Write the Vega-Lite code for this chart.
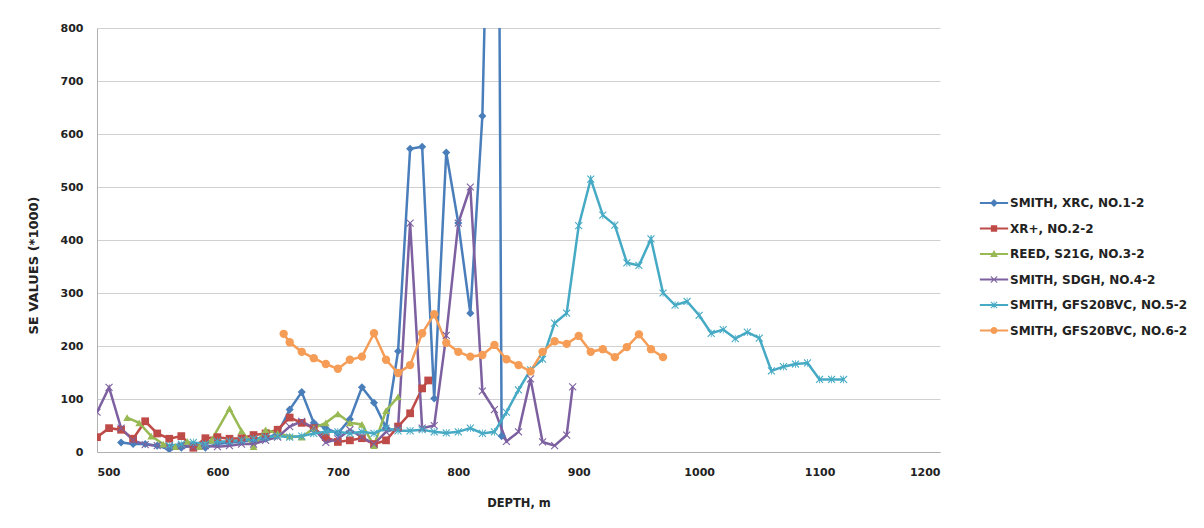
{
"$schema": "https://vega.github.io/schema/vega-lite/v6.json",
"width": 843, "height": 424,
"autosize": {"type": "none"},
"padding": {"left": 97, "top": 28, "right": 264, "bottom": 76},
"background": "white",
"config": {"view": {"stroke": null}},
"data": {"values": [
{"series":"SMITH, XRC, NO.1-2","depth":520,"value":18},{"series":"SMITH, XRC, NO.1-2","depth":530,"value":15},{"series":"SMITH, XRC, NO.1-2","depth":540,"value":15},{"series":"SMITH, XRC, NO.1-2","depth":550,"value":12},{"series":"SMITH, XRC, NO.1-2","depth":560,"value":5},{"series":"SMITH, XRC, NO.1-2","depth":570,"value":8},{"series":"SMITH, XRC, NO.1-2","depth":580,"value":12},{"series":"SMITH, XRC, NO.1-2","depth":590,"value":8},{"series":"SMITH, XRC, NO.1-2","depth":600,"value":15},{"series":"SMITH, XRC, NO.1-2","depth":610,"value":18},{"series":"SMITH, XRC, NO.1-2","depth":620,"value":20},{"series":"SMITH, XRC, NO.1-2","depth":630,"value":22},{"series":"SMITH, XRC, NO.1-2","depth":640,"value":25},{"series":"SMITH, XRC, NO.1-2","depth":650,"value":35},{"series":"SMITH, XRC, NO.1-2","depth":660,"value":80},{"series":"SMITH, XRC, NO.1-2","depth":670,"value":113},{"series":"SMITH, XRC, NO.1-2","depth":680,"value":55},{"series":"SMITH, XRC, NO.1-2","depth":690,"value":45},{"series":"SMITH, XRC, NO.1-2","depth":700,"value":35},{"series":"SMITH, XRC, NO.1-2","depth":710,"value":62},{"series":"SMITH, XRC, NO.1-2","depth":720,"value":122},{"series":"SMITH, XRC, NO.1-2","depth":730,"value":93},{"series":"SMITH, XRC, NO.1-2","depth":740,"value":46},{"series":"SMITH, XRC, NO.1-2","depth":750,"value":190},{"series":"SMITH, XRC, NO.1-2","depth":760,"value":572},{"series":"SMITH, XRC, NO.1-2","depth":770,"value":576},{"series":"SMITH, XRC, NO.1-2","depth":780,"value":101},{"series":"SMITH, XRC, NO.1-2","depth":790,"value":565},{"series":"SMITH, XRC, NO.1-2","depth":800,"value":432},{"series":"SMITH, XRC, NO.1-2","depth":810,"value":262},{"series":"SMITH, XRC, NO.1-2","depth":820,"value":634},{"series":"SMITH, XRC, NO.1-2","depth":832,"value":1800},{"series":"SMITH, XRC, NO.1-2","depth":836,"value":30},
{"series":"XR+, NO.2-2","depth":500,"value":28},{"series":"XR+, NO.2-2","depth":510,"value":45},{"series":"XR+, NO.2-2","depth":520,"value":42},{"series":"XR+, NO.2-2","depth":530,"value":25},{"series":"XR+, NO.2-2","depth":540,"value":58},{"series":"XR+, NO.2-2","depth":550,"value":35},{"series":"XR+, NO.2-2","depth":560,"value":25},{"series":"XR+, NO.2-2","depth":570,"value":30},{"series":"XR+, NO.2-2","depth":580,"value":8},{"series":"XR+, NO.2-2","depth":590,"value":26},{"series":"XR+, NO.2-2","depth":600,"value":28},{"series":"XR+, NO.2-2","depth":610,"value":25},{"series":"XR+, NO.2-2","depth":620,"value":26},{"series":"XR+, NO.2-2","depth":630,"value":32},{"series":"XR+, NO.2-2","depth":640,"value":35},{"series":"XR+, NO.2-2","depth":650,"value":42},{"series":"XR+, NO.2-2","depth":660,"value":65},{"series":"XR+, NO.2-2","depth":670,"value":55},{"series":"XR+, NO.2-2","depth":680,"value":45},{"series":"XR+, NO.2-2","depth":690,"value":28},{"series":"XR+, NO.2-2","depth":700,"value":19},{"series":"XR+, NO.2-2","depth":710,"value":22},{"series":"XR+, NO.2-2","depth":720,"value":26},{"series":"XR+, NO.2-2","depth":730,"value":15},{"series":"XR+, NO.2-2","depth":740,"value":22},{"series":"XR+, NO.2-2","depth":750,"value":48},{"series":"XR+, NO.2-2","depth":760,"value":73},{"series":"XR+, NO.2-2","depth":770,"value":120},{"series":"XR+, NO.2-2","depth":775,"value":135},
{"series":"REED, S21G, NO.3-2","depth":525,"value":65},{"series":"REED, S21G, NO.3-2","depth":535,"value":55},{"series":"REED, S21G, NO.3-2","depth":545,"value":30},{"series":"REED, S21G, NO.3-2","depth":555,"value":15},{"series":"REED, S21G, NO.3-2","depth":565,"value":10},{"series":"REED, S21G, NO.3-2","depth":575,"value":20},{"series":"REED, S21G, NO.3-2","depth":585,"value":10},{"series":"REED, S21G, NO.3-2","depth":595,"value":22},{"series":"REED, S21G, NO.3-2","depth":610,"value":82},{"series":"REED, S21G, NO.3-2","depth":620,"value":40},{"series":"REED, S21G, NO.3-2","depth":630,"value":10},{"series":"REED, S21G, NO.3-2","depth":640,"value":42},{"series":"REED, S21G, NO.3-2","depth":650,"value":35},{"series":"REED, S21G, NO.3-2","depth":660,"value":30},{"series":"REED, S21G, NO.3-2","depth":670,"value":28},{"series":"REED, S21G, NO.3-2","depth":680,"value":45},{"series":"REED, S21G, NO.3-2","depth":690,"value":55},{"series":"REED, S21G, NO.3-2","depth":700,"value":72},{"series":"REED, S21G, NO.3-2","depth":710,"value":55},{"series":"REED, S21G, NO.3-2","depth":720,"value":52},{"series":"REED, S21G, NO.3-2","depth":730,"value":12},{"series":"REED, S21G, NO.3-2","depth":740,"value":78},{"series":"REED, S21G, NO.3-2","depth":750,"value":104},
{"series":"SMITH, SDGH, NO.4-2","depth":500,"value":75},{"series":"SMITH, SDGH, NO.4-2","depth":510,"value":122},{"series":"SMITH, SDGH, NO.4-2","depth":520,"value":45},{"series":"SMITH, SDGH, NO.4-2","depth":530,"value":22},{"series":"SMITH, SDGH, NO.4-2","depth":540,"value":14},{"series":"SMITH, SDGH, NO.4-2","depth":550,"value":12},{"series":"SMITH, SDGH, NO.4-2","depth":560,"value":10},{"series":"SMITH, SDGH, NO.4-2","depth":570,"value":12},{"series":"SMITH, SDGH, NO.4-2","depth":580,"value":10},{"series":"SMITH, SDGH, NO.4-2","depth":590,"value":12},{"series":"SMITH, SDGH, NO.4-2","depth":600,"value":10},{"series":"SMITH, SDGH, NO.4-2","depth":610,"value":12},{"series":"SMITH, SDGH, NO.4-2","depth":620,"value":15},{"series":"SMITH, SDGH, NO.4-2","depth":630,"value":15},{"series":"SMITH, SDGH, NO.4-2","depth":640,"value":22},{"series":"SMITH, SDGH, NO.4-2","depth":650,"value":28},{"series":"SMITH, SDGH, NO.4-2","depth":660,"value":48},{"series":"SMITH, SDGH, NO.4-2","depth":670,"value":58},{"series":"SMITH, SDGH, NO.4-2","depth":680,"value":45},{"series":"SMITH, SDGH, NO.4-2","depth":690,"value":18},{"series":"SMITH, SDGH, NO.4-2","depth":700,"value":25},{"series":"SMITH, SDGH, NO.4-2","depth":710,"value":42},{"series":"SMITH, SDGH, NO.4-2","depth":720,"value":28},{"series":"SMITH, SDGH, NO.4-2","depth":730,"value":15},{"series":"SMITH, SDGH, NO.4-2","depth":740,"value":38},{"series":"SMITH, SDGH, NO.4-2","depth":750,"value":45},{"series":"SMITH, SDGH, NO.4-2","depth":760,"value":432},{"series":"SMITH, SDGH, NO.4-2","depth":770,"value":45},{"series":"SMITH, SDGH, NO.4-2","depth":780,"value":50},{"series":"SMITH, SDGH, NO.4-2","depth":790,"value":220},{"series":"SMITH, SDGH, NO.4-2","depth":800,"value":432},{"series":"SMITH, SDGH, NO.4-2","depth":810,"value":500},{"series":"SMITH, SDGH, NO.4-2","depth":820,"value":115},{"series":"SMITH, SDGH, NO.4-2","depth":830,"value":80},{"series":"SMITH, SDGH, NO.4-2","depth":840,"value":20},{"series":"SMITH, SDGH, NO.4-2","depth":850,"value":38},{"series":"SMITH, SDGH, NO.4-2","depth":860,"value":138},{"series":"SMITH, SDGH, NO.4-2","depth":870,"value":19},{"series":"SMITH, SDGH, NO.4-2","depth":880,"value":12},{"series":"SMITH, SDGH, NO.4-2","depth":890,"value":32},{"series":"SMITH, SDGH, NO.4-2","depth":895,"value":123},
{"series":"SMITH, GFS20BVC, NO.5-2","depth":560,"value":12},{"series":"SMITH, GFS20BVC, NO.5-2","depth":570,"value":15},{"series":"SMITH, GFS20BVC, NO.5-2","depth":580,"value":18},{"series":"SMITH, GFS20BVC, NO.5-2","depth":590,"value":15},{"series":"SMITH, GFS20BVC, NO.5-2","depth":600,"value":20},{"series":"SMITH, GFS20BVC, NO.5-2","depth":610,"value":20},{"series":"SMITH, GFS20BVC, NO.5-2","depth":620,"value":22},{"series":"SMITH, GFS20BVC, NO.5-2","depth":630,"value":25},{"series":"SMITH, GFS20BVC, NO.5-2","depth":640,"value":28},{"series":"SMITH, GFS20BVC, NO.5-2","depth":650,"value":30},{"series":"SMITH, GFS20BVC, NO.5-2","depth":660,"value":28},{"series":"SMITH, GFS20BVC, NO.5-2","depth":670,"value":30},{"series":"SMITH, GFS20BVC, NO.5-2","depth":680,"value":35},{"series":"SMITH, GFS20BVC, NO.5-2","depth":690,"value":38},{"series":"SMITH, GFS20BVC, NO.5-2","depth":700,"value":38},{"series":"SMITH, GFS20BVC, NO.5-2","depth":710,"value":35},{"series":"SMITH, GFS20BVC, NO.5-2","depth":720,"value":38},{"series":"SMITH, GFS20BVC, NO.5-2","depth":730,"value":35},{"series":"SMITH, GFS20BVC, NO.5-2","depth":740,"value":45},{"series":"SMITH, GFS20BVC, NO.5-2","depth":750,"value":40},{"series":"SMITH, GFS20BVC, NO.5-2","depth":760,"value":40},{"series":"SMITH, GFS20BVC, NO.5-2","depth":770,"value":42},{"series":"SMITH, GFS20BVC, NO.5-2","depth":780,"value":38},{"series":"SMITH, GFS20BVC, NO.5-2","depth":790,"value":36},{"series":"SMITH, GFS20BVC, NO.5-2","depth":800,"value":38},{"series":"SMITH, GFS20BVC, NO.5-2","depth":810,"value":45},{"series":"SMITH, GFS20BVC, NO.5-2","depth":820,"value":35},{"series":"SMITH, GFS20BVC, NO.5-2","depth":830,"value":38},{"series":"SMITH, GFS20BVC, NO.5-2","depth":840,"value":75},{"series":"SMITH, GFS20BVC, NO.5-2","depth":850,"value":117},{"series":"SMITH, GFS20BVC, NO.5-2","depth":860,"value":155},{"series":"SMITH, GFS20BVC, NO.5-2","depth":870,"value":175},{"series":"SMITH, GFS20BVC, NO.5-2","depth":880,"value":243},{"series":"SMITH, GFS20BVC, NO.5-2","depth":890,"value":262},{"series":"SMITH, GFS20BVC, NO.5-2","depth":900,"value":427},{"series":"SMITH, GFS20BVC, NO.5-2","depth":910,"value":515},{"series":"SMITH, GFS20BVC, NO.5-2","depth":920,"value":447},{"series":"SMITH, GFS20BVC, NO.5-2","depth":930,"value":428},{"series":"SMITH, GFS20BVC, NO.5-2","depth":940,"value":357},{"series":"SMITH, GFS20BVC, NO.5-2","depth":950,"value":352},{"series":"SMITH, GFS20BVC, NO.5-2","depth":960,"value":402},{"series":"SMITH, GFS20BVC, NO.5-2","depth":970,"value":300},{"series":"SMITH, GFS20BVC, NO.5-2","depth":980,"value":277},{"series":"SMITH, GFS20BVC, NO.5-2","depth":990,"value":284},{"series":"SMITH, GFS20BVC, NO.5-2","depth":1000,"value":258},{"series":"SMITH, GFS20BVC, NO.5-2","depth":1010,"value":224},{"series":"SMITH, GFS20BVC, NO.5-2","depth":1020,"value":231},{"series":"SMITH, GFS20BVC, NO.5-2","depth":1030,"value":214},{"series":"SMITH, GFS20BVC, NO.5-2","depth":1040,"value":226},{"series":"SMITH, GFS20BVC, NO.5-2","depth":1050,"value":215},{"series":"SMITH, GFS20BVC, NO.5-2","depth":1060,"value":153},{"series":"SMITH, GFS20BVC, NO.5-2","depth":1070,"value":161},{"series":"SMITH, GFS20BVC, NO.5-2","depth":1080,"value":166},{"series":"SMITH, GFS20BVC, NO.5-2","depth":1090,"value":168},{"series":"SMITH, GFS20BVC, NO.5-2","depth":1100,"value":137},{"series":"SMITH, GFS20BVC, NO.5-2","depth":1110,"value":137},{"series":"SMITH, GFS20BVC, NO.5-2","depth":1120,"value":137},
{"series":"SMITH, GFS20BVC, NO.6-2","depth":655,"value":223},{"series":"SMITH, GFS20BVC, NO.6-2","depth":660,"value":207},{"series":"SMITH, GFS20BVC, NO.6-2","depth":670,"value":189},{"series":"SMITH, GFS20BVC, NO.6-2","depth":680,"value":177},{"series":"SMITH, GFS20BVC, NO.6-2","depth":690,"value":166},{"series":"SMITH, GFS20BVC, NO.6-2","depth":700,"value":157},{"series":"SMITH, GFS20BVC, NO.6-2","depth":710,"value":174},{"series":"SMITH, GFS20BVC, NO.6-2","depth":720,"value":180},{"series":"SMITH, GFS20BVC, NO.6-2","depth":730,"value":224},{"series":"SMITH, GFS20BVC, NO.6-2","depth":740,"value":174},{"series":"SMITH, GFS20BVC, NO.6-2","depth":750,"value":149},{"series":"SMITH, GFS20BVC, NO.6-2","depth":760,"value":164},{"series":"SMITH, GFS20BVC, NO.6-2","depth":770,"value":224},{"series":"SMITH, GFS20BVC, NO.6-2","depth":780,"value":260},{"series":"SMITH, GFS20BVC, NO.6-2","depth":790,"value":206},{"series":"SMITH, GFS20BVC, NO.6-2","depth":800,"value":189},{"series":"SMITH, GFS20BVC, NO.6-2","depth":810,"value":180},{"series":"SMITH, GFS20BVC, NO.6-2","depth":820,"value":183},{"series":"SMITH, GFS20BVC, NO.6-2","depth":830,"value":202},{"series":"SMITH, GFS20BVC, NO.6-2","depth":840,"value":175},{"series":"SMITH, GFS20BVC, NO.6-2","depth":850,"value":164},{"series":"SMITH, GFS20BVC, NO.6-2","depth":860,"value":152},{"series":"SMITH, GFS20BVC, NO.6-2","depth":870,"value":189},{"series":"SMITH, GFS20BVC, NO.6-2","depth":880,"value":209},{"series":"SMITH, GFS20BVC, NO.6-2","depth":890,"value":204},{"series":"SMITH, GFS20BVC, NO.6-2","depth":900,"value":219},{"series":"SMITH, GFS20BVC, NO.6-2","depth":910,"value":189},{"series":"SMITH, GFS20BVC, NO.6-2","depth":920,"value":194},{"series":"SMITH, GFS20BVC, NO.6-2","depth":930,"value":179},{"series":"SMITH, GFS20BVC, NO.6-2","depth":940,"value":198},{"series":"SMITH, GFS20BVC, NO.6-2","depth":950,"value":222},{"series":"SMITH, GFS20BVC, NO.6-2","depth":960,"value":194},{"series":"SMITH, GFS20BVC, NO.6-2","depth":970,"value":179}
]},
"encoding": {
  "x": {"field": "depth", "type": "quantitative", "scale": {"domain": [500, 1200], "nice": false, "zero": false},
    "axis": {"values": [500,600,700,800,900,1000,1100,1200], "format": "d", "grid": false, "ticks": false, "domainColor": "#b0b0b0", "labelFont": "DejaVu Sans", "labelFontWeight": "bold", "labelFontSize": 11, "labelColor": "#222222", "labelPadding": 14, "title": "DEPTH, m", "titleFont": "DejaVu Sans", "titleFontWeight": "bold", "titleFontSize": 11.5, "titleColor": "#222222", "titlePadding": 20}},
  "y": {"field": "value", "type": "quantitative", "scale": {"domain": [0, 800], "nice": false},
    "axis": {"values": [0,100,200,300,400,500,600,700,800], "format": "d", "grid": true, "gridColor": "#d0d0d0", "gridWidth": 1, "ticks": false, "domainColor": "#b0b0b0", "labelFont": "DejaVu Sans", "labelFontWeight": "bold", "labelFontSize": 11, "labelColor": "#222222", "labelPadding": 14, "title": "SE VALUES (*1000)", "titleFont": "DejaVu Sans", "titleFontWeight": "bold", "titleFontSize": 13, "titleColor": "#222222", "titleX": -64, "titleY": 237, "titleBaseline": "middle", "titleAlign": "center", "titleAngle": -90}},
  "color": {"field": "series", "type": "nominal",
    "scale": {"domain": ["SMITH, XRC, NO.1-2","XR+, NO.2-2","REED, S21G, NO.3-2","SMITH, SDGH, NO.4-2","SMITH, GFS20BVC, NO.5-2","SMITH, GFS20BVC, NO.6-2"],
              "range": ["#4a7ebb","#be4b48","#98b954","#7d60a0","#46aac5","#f59d56"]},
    "legend": {"title": null, "orient": "none", "legendX": 891, "legendY": 169, "padding": 0, "rowPadding": 13.5, "symbolSize": 50, "symbolOpacity": 1, "symbolStrokeWidth": 0, "labelOffset": 10, "labelFont": "DejaVu Sans", "labelFontWeight": "bold", "labelFontSize": 12, "labelColor": "#222222", "labelLimit": 300}
  }
},
"layer": [
  {"mark": {"type": "line", "strokeWidth": 2.5, "clip": true}},
  {"transform": [{"filter": "datum.series == 'SMITH, XRC, NO.1-2'"}],
   "mark": {"type": "point", "shape": "diamond", "filled": true, "size": 65, "opacity": 1, "clip": true}},
  {"transform": [{"filter": "datum.series == 'XR+, NO.2-2'"}],
   "mark": {"type": "point", "shape": "square", "filled": true, "size": 60, "opacity": 1, "clip": true}},
  {"transform": [{"filter": "datum.series == 'REED, S21G, NO.3-2'"}],
   "mark": {"type": "point", "shape": "triangle-up", "filled": true, "size": 60, "opacity": 1, "clip": true}},
  {"transform": [{"filter": "datum.series == 'SMITH, SDGH, NO.4-2'"}],
   "mark": {"type": "point", "shape": "M-1,-0.8L-0.8,-1L0,-0.2L0.8,-1L1,-0.8L0.2,0L1,0.8L0.8,1L0,0.2L-0.8,1L-1,0.8L-0.2,0Z", "filled": true, "size": 60, "opacity": 1, "clip": true}},
  {"transform": [{"filter": "datum.series == 'SMITH, GFS20BVC, NO.5-2'"}],
   "mark": {"type": "point", "shape": "M-1,-0.8L-0.8,-1L0,-0.2L0.8,-1L1,-0.8L0.2,0L1,0.8L0.8,1L0,0.2L-0.8,1L-1,0.8L-0.2,0ZM-0.1,-1L0.1,-1L0.1,1L-0.1,1Z", "filled": true, "size": 60, "opacity": 1, "clip": true}},
  {"transform": [{"filter": "datum.series == 'SMITH, GFS20BVC, NO.6-2'"}],
   "mark": {"type": "point", "shape": "circle", "filled": true, "size": 70, "opacity": 1, "clip": true}},
  {"mark": {"type": "point", "filled": true, "size": 50, "opacity": 0, "clip": true},
   "encoding": {"shape": {"field": "series", "type": "nominal",
     "scale": {"domain": ["SMITH, XRC, NO.1-2","XR+, NO.2-2","REED, S21G, NO.3-2","SMITH, SDGH, NO.4-2","SMITH, GFS20BVC, NO.5-2","SMITH, GFS20BVC, NO.6-2"],
               "range": ["M-4,-0.3L4,-0.3L4,0.3L-4,0.3ZM0,-1.1L1.1,0L0,1.1L-1.1,0Z","M-4,-0.3L4,-0.3L4,0.3L-4,0.3ZM-0.9,-0.9L0.9,-0.9L0.9,0.9L-0.9,0.9Z","M-4,-0.3L4,-0.3L4,0.3L-4,0.3ZM0,-1.1L1.1,0.85L-1.1,0.85Z","M-4,-0.3L4,-0.3L4,0.3L-4,0.3ZM-1,-0.8L-0.8,-1L0,-0.2L0.8,-1L1,-0.8L0.2,0L1,0.8L0.8,1L0,0.2L-0.8,1L-1,0.8L-0.2,0Z","M-4,-0.3L4,-0.3L4,0.3L-4,0.3ZM-1,-0.8L-0.8,-1L0,-0.2L0.8,-1L1,-0.8L0.2,0L1,0.8L0.8,1L0,0.2L-0.8,1L-1,0.8L-0.2,0ZM-0.1,-1L0.1,-1L0.1,1L-0.1,1Z","M-4,-0.3L4,-0.3L4,0.3L-4,0.3ZM1,0A1,1,0,1,1,-1,0A1,1,0,1,1,1,0Z"]},
     "legend": {"title": null, "orient": "none", "legendX": 891, "legendY": 169, "padding": 0, "rowPadding": 13.5, "symbolSize": 50, "symbolOpacity": 1, "symbolStrokeWidth": 0, "labelOffset": 10, "labelFont": "DejaVu Sans", "labelFontWeight": "bold", "labelFontSize": 12, "labelColor": "#222222", "labelLimit": 300}}}}
]
}
